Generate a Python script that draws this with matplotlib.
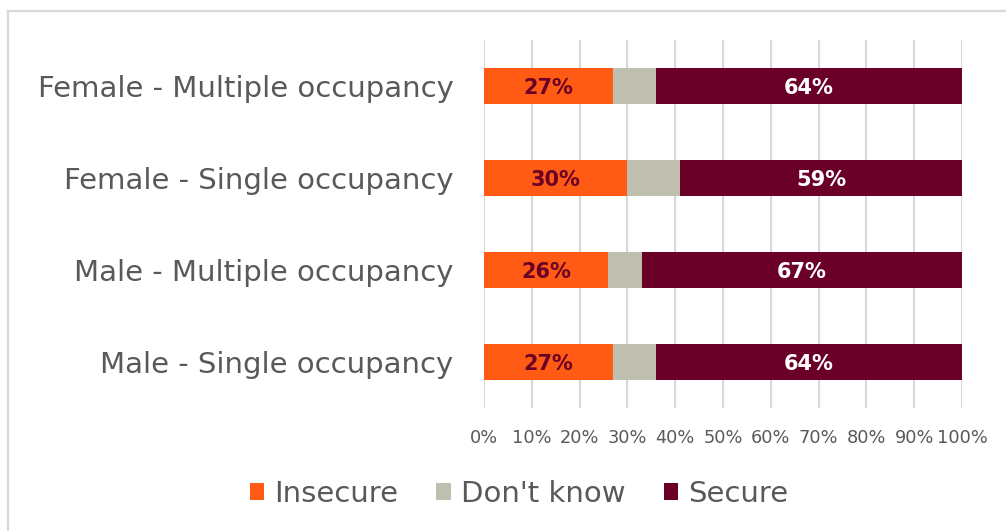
import matplotlib
matplotlib.use("Agg")
import matplotlib.pyplot as plt
from matplotlib.lines import Line2D
from matplotlib.patches import Patch

categories = [
    "Female - Multiple occupancy",
    "Female - Single occupancy",
    "Male - Multiple occupancy",
    "Male - Single occupancy",
]
insecure = [27, 30, 26, 27]
dont_know = [9, 11, 7, 9]
secure = [64, 59, 67, 64]
series_names = ["Insecure", "Don't know", "Secure"]
tick_values = list(range(0, 101, 10))
tick_labels = [f"{v}%" for v in tick_values]

c_insecure = "#FF5B14"
c_dk = "#BEBFAE"
c_secure = "#6A0028"
text_c = "#595959"
grid_c = "#D9D9D9"

plt.rcParams["font.family"] = ["DejaVu Sans"]

fig = plt.figure(figsize=(10.06, 5.31), dpi=100)
ax = fig.add_axes([484 / 1006, 1 - 408 / 531, 478 / 1006, 368 / 531])

y = list(range(len(categories)))
h = 0.39
left_dk = [a for a in insecure]
left_sec = [a + b for a, b in zip(insecure, dont_know)]
ax.barh(y, insecure, height=h, color=c_insecure, zorder=3)
ax.barh(y, dont_know, left=left_dk, height=h, color=c_dk, zorder=3)
ax.barh(y, secure, left=left_sec, height=h, color=c_secure, zorder=3)

label_font = dict(family=["DejaVu Sans"], fontweight="bold", fontsize=15,
                  ha="center", va="center", zorder=4)
for i in y:
    ax.text(insecure[i] / 2, i + 0.02, f"{insecure[i]}%", color=c_secure, **label_font)
    ax.text(left_sec[i] + secure[i] / 2, i + 0.02, f"{secure[i]}%", color="white", **label_font)

ax.set_xlim(0, 100)
ax.set_ylim(3.5, -0.5)
ax.set_xticks(tick_values)
ax.set_xticklabels(tick_labels)
ax.set_yticks(y)
ax.set_yticklabels(categories)
ax.tick_params(axis="x", length=0, pad=15, labelsize=12.8, labelcolor=text_c)
ax.tick_params(axis="y", length=0, pad=22, labelsize=21, labelcolor=text_c)
ax.grid(axis="x", color=grid_c, linewidth=1.5, zorder=0)
for s in ax.spines.values():
    s.set_visible(False)

handles = [Patch(facecolor=c, edgecolor="none") for c in (c_insecure, c_dk, c_secure)]
leg = fig.legend(handles, series_names, loc="center", bbox_to_anchor=(519 / 1006, 1 - 494 / 531),
                 ncol=3, frameon=False, fontsize=21, handlelength=0.5, handleheight=0.5,
                 handletextpad=0.35, columnspacing=1.3)
for t in leg.get_texts():
    t.set_color(text_c)

# outer frame (top and left edges visible)
fig.add_artist(Line2D([8 / 1006, 1], [1 - 11 / 531, 1 - 11 / 531], color=grid_c, lw=1.6,
                      transform=fig.transFigure))
fig.add_artist(Line2D([8 / 1006, 8 / 1006], [0, 1 - 11 / 531], color=grid_c, lw=1.6,
                      transform=fig.transFigure))

fig.savefig("out.png", dpi=100, facecolor="white")
